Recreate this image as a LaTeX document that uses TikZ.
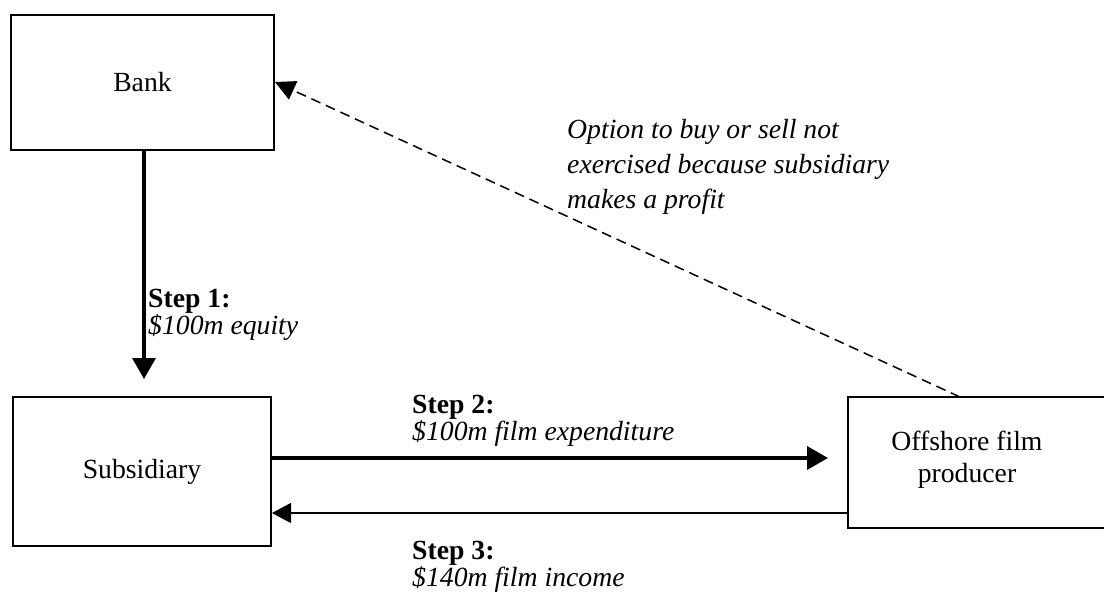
\documentclass[tikz,border=0pt]{standalone}
\usepackage{fontspec}
\setmainfont{Liberation Serif}
\usetikzlibrary{arrows.meta}
\begin{document}
\begin{tikzpicture}[x=1pt,y=-1pt,
  box/.style={draw,line width=2pt,rectangle,inner sep=0pt},
  boxtext/.style={font=\fontsize{27.7}{32}\selectfont,align=center,inner sep=0pt},
  lbl/.style={font=\fontsize{27.7}{23.5}\selectfont,align=left,inner sep=0pt,anchor=north west},
  flowthick/.style={line width=3.5pt,-{Triangle[width=23pt,length=21pt]}},
  flowthin/.style={line width=1.3pt,-{Triangle[width=20pt,length=19pt]}},
  optline/.style={line width=1.5pt,dash pattern=on 10pt off 6pt,-{Triangle[width=20pt,length=20pt]}}]
  \useasboundingbox (0,0) rectangle (1104,592);
  % parties
  \node[box,minimum width=263pt,minimum height=135pt] (bank) at (142.5,82.5) {};
  \node[boxtext] (banktext) at (142.5,82.5) {Bank};
  \node[box,minimum width=258pt,minimum height=149pt] (sub) at (142,471.5) {};
  \node[boxtext] (subtext) at (142,471.5) {Subsidiary};
  \node[box,minimum width=264pt,minimum height=131pt] (off) at (980,462.5) {};
  \node[boxtext] (offtext) at (967,460) {Offshore film\\producer};
  % flows
  \draw[flowthick,shorten >=17pt] (bank.south -| 144,0) -- (sub.north -| 144,0);
  \draw[flowthick,shorten >=19pt] (sub.east |- 0,458) -- (off.west |- 0,458);
  \draw[flowthin] (off.west |- 0,513) -- (sub.east |- 0,513);
  \coordinate (optstart) at (960,397);
  \draw[optline] (optstart) -- (bank.east |- 0,82);
  % labels
  \node[lbl] (s1) at (148,289) {\textbf{Step 1:}\\\textit{\$100m equity}};
  \node[lbl] (s2) at (412,395) {\textbf{Step 2:}\\\textit{\$100m film expenditure}};
  \node[lbl] (s3) at (412,541) {\textbf{Step 3:}\\\textit{\$140m film income}};
  \node[lbl,font=\fontsize{27.7}{35}\selectfont\itshape] (opt) at (567,119) {Option to buy or sell not\\exercised because subsidiary\\makes a profit};
\end{tikzpicture}
\end{document}
